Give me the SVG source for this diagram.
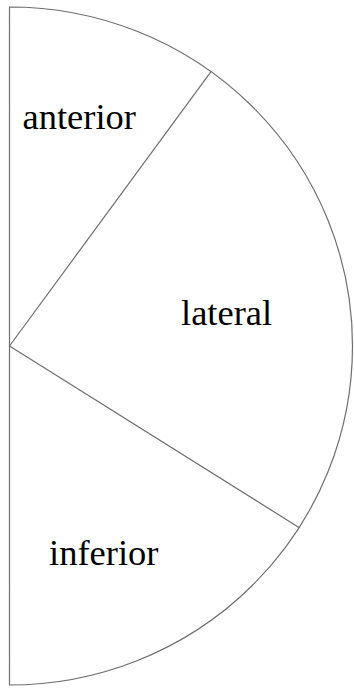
<svg xmlns="http://www.w3.org/2000/svg" width="354" height="688" viewBox="0 0 354 688">
<style>
.ln{fill:none;stroke:#6e6e6e;stroke-width:1.2}
.lb{font-family:"Liberation Serif","Times New Roman",serif;font-size:36.5px;fill:#000}
</style>
<rect width="354" height="688" fill="#fff"/>
<g id="outline">
<path class="ln" d="M9.5,7 A343,339 0 0 1 9.5,685 Z"/>
</g>
<g id="connectors">
<line class="ln" x1="9.5" y1="346" x2="211" y2="71.7"/>
<line class="ln" x1="9.5" y1="346" x2="299.3" y2="527.7"/>
</g>
<g id="anterior"><text class="lb" x="22.5" y="128.5">anterior</text></g>
<g id="lateral"><text class="lb" x="181" y="325">lateral</text></g>
<g id="inferior"><text class="lb" x="49" y="565">inferior</text></g>
</svg>
